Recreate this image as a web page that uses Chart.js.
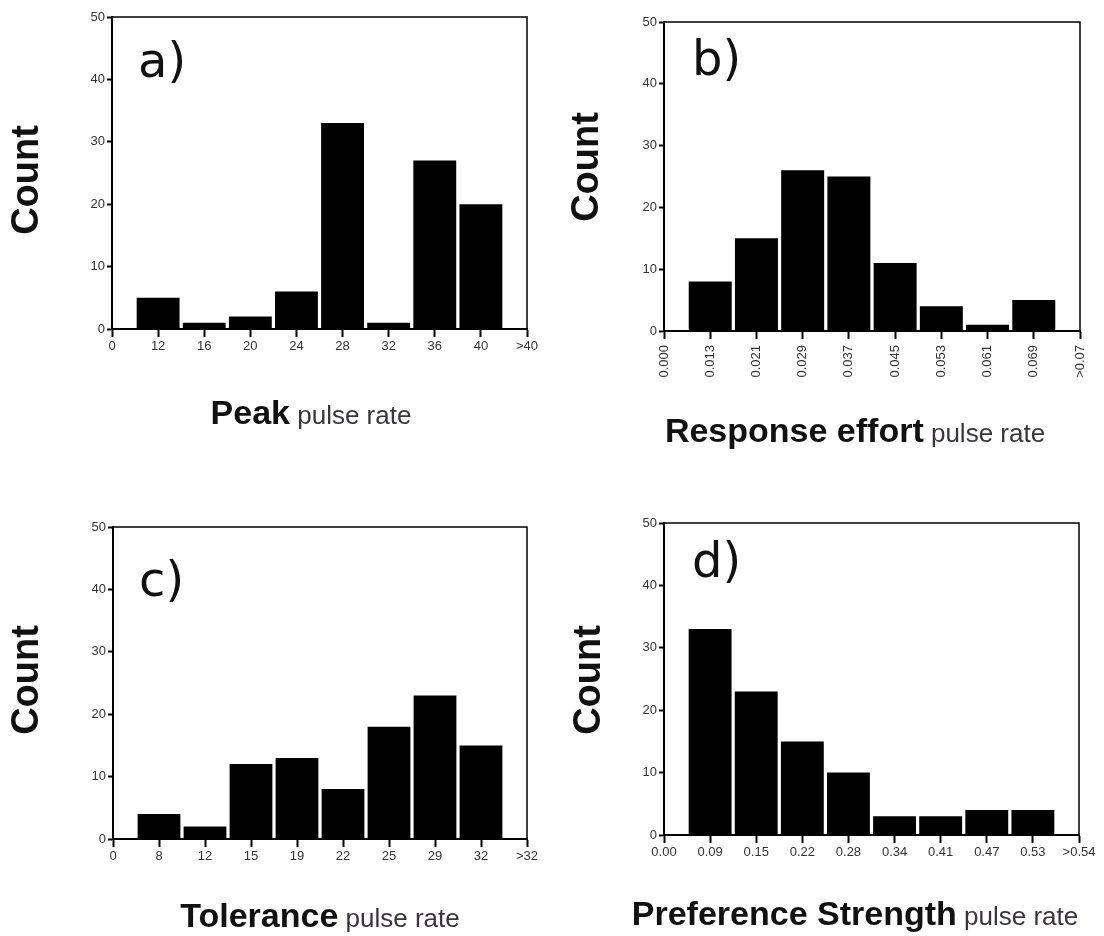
<!DOCTYPE html>
<html>
<head>
<meta charset="utf-8">
<script src="https://cdn.jsdelivr.net/npm/chart.js@4.4.0/dist/chart.umd.min.js"></script>
<style>
  html, body { margin: 0; padding: 0; background: #fff; }
  body { width: 1104px; height: 936px; position: relative; overflow: hidden; }
  .panel { position: absolute; width: 552px; height: 468px; }
</style>
</head>
<body>
<div class="panel" style="left:0;top:0"><canvas id="chartA" width="552" height="468"></canvas></div>
<div class="panel" style="left:552px;top:0"><canvas id="chartB" width="552" height="468"></canvas></div>
<div class="panel" style="left:0;top:468px"><canvas id="chartC" width="552" height="468"></canvas></div>
<div class="panel" style="left:552px;top:468px"><canvas id="chartD" width="552" height="468"></canvas></div>
<script>
// bin labels (edges) and counts, first/last edge have no bar
const peakLabels = ['0', '12', '16', '20', '24', '28', '32', '36', '40', '>40'];
const peakCounts = [null, 5, 1, 2, 6, 33, 1, 27, 20, null];

const effortLabels = ['0.000', '0.013', '0.021', '0.029', '0.037', '0.045', '0.053', '0.061', '0.069', '>0.07'];
const effortCounts = [null, 8, 15, 26, 25, 11, 4, 1, 5, null];

const toleranceLabels = ['0', '8', '12', '15', '19', '22', '25', '29', '32', '>32'];
const toleranceCounts = [null, 4, 2, 12, 13, 8, 18, 23, 15, null];

const strengthLabels = ['0.00', '0.09', '0.15', '0.22', '0.28', '0.34', '0.41', '0.47', '0.53', '>0.54'];
const strengthCounts = [null, 33, 23, 15, 10, 3, 3, 4, 4, null];

const countMax = 50;
const countStep = 10;

const Y_AXIS_W = 40;
const X_AXIS_H = 50;

// draws the frame, panel letter, "Count" and the two-part x title
const panelText = {
  id: 'panelText',
  afterDraw(chart, args, opts) {
    const ctx = chart.ctx;
    const a = chart.chartArea;
    ctx.save();
    ctx.strokeStyle = '#000';
    ctx.lineWidth = 1.5;
    ctx.beginPath();
    ctx.moveTo(a.left, a.top);
    ctx.lineTo(a.right, a.top);
    ctx.lineTo(a.right, a.bottom);
    ctx.stroke();

    ctx.fillStyle = '#111';
    ctx.textBaseline = 'alphabetic';
    ctx.textAlign = 'left';
    ctx.font = '48px "DejaVu Sans"';
    ctx.fillText(opts.letter, opts.letterX, opts.letterY);

    ctx.save();
    ctx.translate(opts.countX, opts.countY);
    ctx.rotate(-Math.PI / 2);
    ctx.textAlign = 'center';
    ctx.textBaseline = 'middle';
    ctx.font = 'bold 38px "Liberation Sans"';
    ctx.fillText('Count', 0, 0);
    ctx.restore();

    const boldFont = 'bold 34px "Liberation Sans"';
    const normFont = '26px "Liberation Sans"';
    ctx.font = boldFont;
    const w1 = ctx.measureText(opts.title).width;
    ctx.font = normFont;
    const w2 = ctx.measureText(' pulse rate').width;
    let x = opts.titleCx - (w1 + w2) / 2;
    ctx.font = boldFont;
    ctx.fillStyle = '#111';
    ctx.fillText(opts.title, x, opts.titleY);
    ctx.font = normFont;
    ctx.fillStyle = '#3a3440';
    ctx.fillText(' pulse rate', x + w1, opts.titleY);
    ctx.restore();
  }
};

function makeHist(id, labels, counts, area, text, rotated) {
  const ctx = document.getElementById(id).getContext('2d');
  return new Chart(ctx, {
    type: 'bar',
    data: {
      labels: labels,
      datasets: [{
        data: counts,
        backgroundColor: '#000',
        borderWidth: 0,
        categoryPercentage: 0.93,
        barPercentage: 1
      }]
    },
    options: {
      responsive: false,
      animation: false,
      layout: {
        padding: {
          left: area.left - Y_AXIS_W,
          top: area.top,
          right: 552 - area.right,
          bottom: 468 - area.bottom - X_AXIS_H
        }
      },
      scales: {
        x: {
          type: 'category',
          offset: false,
          z: 1,
          afterFit: (s) => { s.height = X_AXIS_H; },
          grid: { offset: false, drawOnChartArea: false, drawTicks: true, tickLength: 8, tickWidth: 2, tickColor: '#000' },
          border: { display: true, color: '#000', width: 2 },
          ticks: {
            autoSkip: false,
            minRotation: rotated ? 90 : 0,
            maxRotation: rotated ? 90 : 0,
            padding: rotated ? 6 : 2,
            color: '#333',
            font: { family: 'Liberation Sans', size: 13 }
          }
        },
        y: {
          min: 0,
          max: countMax,
          z: 1,
          afterFit: (s) => { s.width = Y_AXIS_W; },
          grid: { drawOnChartArea: false, drawTicks: true, tickLength: 5, tickWidth: 2, tickColor: '#000' },
          border: { display: true, color: '#000', width: 2 },
          ticks: {
            stepSize: countStep,
            padding: 2,
            color: '#333',
            font: { family: 'Liberation Sans', size: 13 }
          }
        }
      },
      plugins: {
        legend: { display: false },
        tooltip: { enabled: false },
        panelText: text
      }
    },
    plugins: [panelText]
  });
}

makeHist('chartA', peakLabels, peakCounts,
  { left: 112, top: 17, right: 527, bottom: 329 },
  { letter: 'a)', letterX: 138, letterY: 77, countX: 28, countY: 180, title: 'Peak', titleCx: 311, titleY: 424 },
  false);

makeHist('chartB', effortLabels, effortCounts,
  { left: 112, top: 22, right: 528, bottom: 331 },
  { letter: 'b)', letterX: 140, letterY: 75, countX: 36, countY: 167, title: 'Response effort', titleCx: 303, titleY: 442 },
  true);

makeHist('chartC', toleranceLabels, toleranceCounts,
  { left: 113, top: 59, right: 527, bottom: 371 },
  { letter: 'c)', letterX: 139, letterY: 128, countX: 28, countY: 212, title: 'Tolerance', titleCx: 320, titleY: 459 },
  false);

makeHist('chartD', strengthLabels, strengthCounts,
  { left: 112, top: 55, right: 527, bottom: 367 },
  { letter: 'd)', letterX: 140, letterY: 109, countX: 38, countY: 212, title: 'Preference Strength', titleCx: 303, titleY: 457 },
  false);
</script>
</body>
</html>
